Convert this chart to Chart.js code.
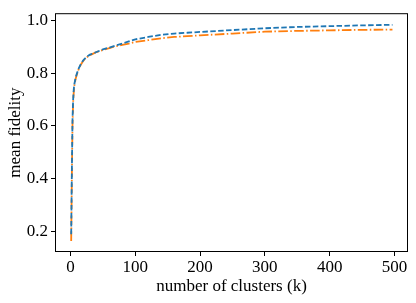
<!DOCTYPE html>
<html>
<head>
<meta charset="utf-8">
<script src="https://cdn.jsdelivr.net/npm/chart.js@4"></script>
<style>
  html, body { margin: 0; padding: 0; background: #fff; }
  #wrap { width: 416px; height: 303px; }
</style>
</head>
<body>
<div id="wrap"><canvas id="chart" width="416" height="303"></canvas></div>
<script>
// number of clusters (k)
const kValues = [1, 2, 3, 4, 5, 6, 8, 10, 13, 16, 20, 25, 30, 35, 40, 50, 60, 70, 80, 90, 100,
                 120, 140, 160, 180, 200, 250, 300, 350, 400, 450, 497];
// mean fidelity, blue dashed series
const fidelityA = [0.19, 0.42, 0.62, 0.70, 0.74, 0.76, 0.785, 0.80, 0.82, 0.835, 0.85, 0.862, 0.87,
                   0.875, 0.88, 0.89, 0.897, 0.905, 0.912, 0.92, 0.928, 0.937, 0.945, 0.95, 0.953,
                   0.956, 0.963, 0.97, 0.975, 0.978, 0.981, 0.983];
// mean fidelity, orange dash-dot series
const fidelityB = [0.165, 0.40, 0.60, 0.69, 0.73, 0.755, 0.78, 0.797, 0.818, 0.833, 0.848, 0.86, 0.868,
                   0.874, 0.88, 0.888, 0.895, 0.902, 0.907, 0.912, 0.918, 0.925, 0.932, 0.937, 0.94,
                   0.943, 0.95, 0.957, 0.96, 0.962, 0.964, 0.965];
const xTicks = [0, 100, 200, 300, 400, 500];
const yTicks = [0.2, 0.4, 0.6, 0.8, 1.0];

const FONT = "'Liberation Serif', 'DejaVu Serif', serif";

// matplotlib-style box around the plot area
const frame = {
    id: 'frame',
    afterDraw(chart) {
        const a = chart.chartArea;
        const ctx = chart.ctx;
        ctx.save();
        ctx.strokeStyle = '#000';
        ctx.lineWidth = 1;
        ctx.strokeRect(a.left + 0.5, a.top + 0.5, a.right - a.left - 1, a.bottom - a.top - 1);
        ctx.restore();
    }
};

const toPoints = (ys) => kValues.map((k, i) => ({ x: k, y: ys[i] }));

new Chart(document.getElementById('chart'), {
    type: 'line',
    data: {
        datasets: [
            {
                data: toPoints(fidelityA),
                borderColor: '#1f77b4',
                borderWidth: 1.8,
                borderDash: [5.5, 2.4],
                pointRadius: 0,
                fill: false,
                tension: 0
            },
            {
                data: toPoints(fidelityB),
                borderColor: '#ff7f0e',
                borderWidth: 1.8,
                borderDash: [9.6, 2.4, 1.5, 2.4],
                pointRadius: 0,
                fill: false,
                tension: 0
            }
        ]
    },
    options: {
        responsive: false,
        animation: false,
        layout: { padding: { top: 7, right: 8, left: 5, bottom: 0 } },
        plugins: {
            legend: { display: false },
            tooltip: { enabled: false }
        },
        scales: {
            x: {
                type: 'linear',
                min: -24,
                max: 521,
                afterBuildTicks: (s) => { s.ticks = xTicks.map(v => ({ value: v })); },
                afterFit: (s) => { s.height = 51; },
                grid: { drawOnChartArea: false, color: '#000', tickLength: 4, tickWidth: 1 },
                border: { display: false },
                ticks: { color: '#000', font: { family: FONT, size: 17 }, padding: 1, maxRotation: 0 },
                title: {
                    display: true,
                    text: 'number of clusters (k)',
                    color: '#000',
                    font: { family: FONT, size: 17 },
                    padding: { top: 0, bottom: 6 }
                }
            },
            y: {
                min: 0.123,
                max: 1.027,
                afterBuildTicks: (s) => { s.ticks = yTicks.map(v => ({ value: v })); },
                afterFit: (s) => { s.width = 50; },
                grid: { drawOnChartArea: false, color: '#000', tickLength: 4, tickWidth: 1 },
                border: { display: false },
                ticks: {
                    color: '#000',
                    font: { family: FONT, size: 17 },
                    padding: 3,
                    callback: (v) => v.toFixed(1)
                },
                title: {
                    display: true,
                    text: 'mean fidelity',
                    color: '#000',
                    font: { family: FONT, size: 17 },
                    padding: { top: 0, bottom: 2 }
                }
            }
        }
    },
    plugins: [frame]
});
</script>
</body>
</html>
